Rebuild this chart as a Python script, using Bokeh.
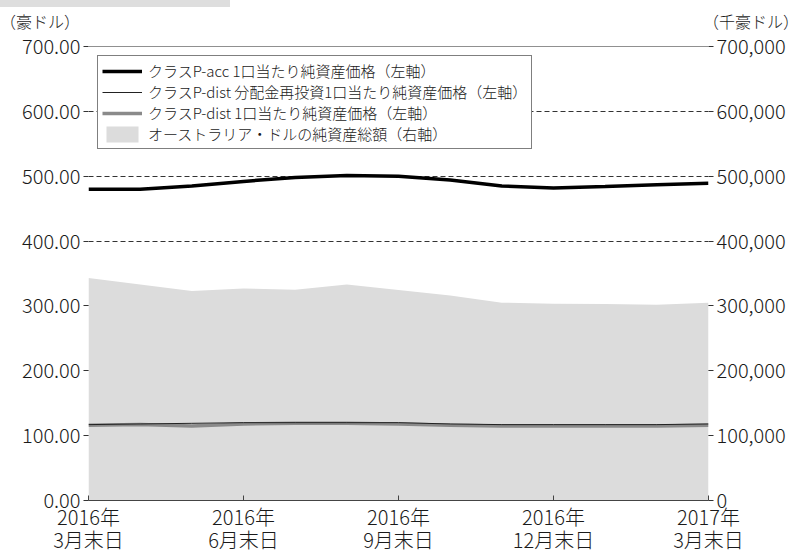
from bokeh.plotting import figure
from bokeh.layouts import column
from bokeh.models import (Range1d, LinearAxis, FixedTicker, NumeralTickFormatter,
                          Legend, LegendItem, Span, Div)
from bokeh.embed import file_html
from bokeh.resources import INLINE

# ---- data (month-end values) ----
months = ["2016-03", "2016-04", "2016-05", "2016-06", "2016-07", "2016-08", "2016-09",
          "2016-10", "2016-11", "2016-12", "2017-01", "2017-02", "2017-03"]
tick_months = ["2016-03", "2016-06", "2016-09", "2016-12", "2017-03"]
tick_labels = ["2016年\n3月末日", "2016年\n6月末日", "2016年\n9月末日",
               "2016年\n12月末日", "2017年\n3月末日"]
nav_acc = [480, 480, 485, 492, 498, 501, 500, 494, 485, 482, 484, 487, 489]
nav_dist_reinv = [117, 118, 119, 120, 120, 120, 120, 118, 117, 117, 117, 117, 118]
nav_dist = [116, 117, 115, 118, 119, 119, 118, 116, 115, 115, 115, 115, 116]
total_assets = [343000, 333000, 323000, 327000, 325000, 333000, 324600,
                316000, 305000, 303500, 303000, 302000, 305000]  # 千豪ドル
left_ticks = [0, 100, 200, 300, 400, 500, 600, 700]
right_ticks = [0, 100000, 200000, 300000, 400000, 500000, 600000, 700000]
left_unit = "（豪ドル）"
right_unit = "（千豪ドル）"

x = list(range(len(months)))
tick_pos = [months.index(m) for m in tick_months]

FONT = "Noto Sans CJK JP Light"
TXT = "#1a1a1a"

head = Div(width=800, height=30, styles={"margin": "0", "padding": "0"}, text=(
    '<div style="position:relative;width:800px;height:30px;'
    'font-family:\'Noto Sans CJK JP\';font-weight:300;font-size:16px;color:#1a1a1a;">'
    '<div style="position:absolute;left:0;top:0;width:230px;height:7px;background:#dedede;"></div>'
    f'<div style="position:absolute;left:0;top:12px;width:74px;text-align:right;line-height:18px;white-space:nowrap;">{left_unit}</div>'
    f'<div style="position:absolute;left:703px;top:12px;line-height:18px;white-space:nowrap;">{right_unit}</div>'
    '</div>'))

p = figure(frame_width=620, frame_height=454, output_backend="svg", toolbar_location=None,
           x_range=Range1d(0, len(months) - 1), y_range=Range1d(0, 700),
           min_border_left=88, min_border_right=92, min_border_top=16,
           min_border_bottom=50)
p.outline_line_color = None
p.background_fill_color = "white"
p.border_fill_color = "white"

p.extra_y_ranges = {"right": Range1d(0, 700000)}

# area (right axis)
area = p.varea(x=x, y1=[0] * len(x), y2=total_assets, y_range_name="right",
               fill_color="#dcdcdc")
# lines (left axis)
l_dist = p.line(x, nav_dist, line_color="#8a8a8a", line_width=3.5)
l_reinv = p.line(x, nav_dist_reinv, line_color="#222222", line_width=1)
l_acc = p.line(x, nav_acc, line_color="black", line_width=3.5)

# top solid line
p.add_layout(Span(location=700, dimension="width", line_color="#222222", line_width=1))

# grid
p.xgrid.visible = False
p.ygrid.ticker = FixedTicker(ticks=[100, 200, 300, 400, 500, 600])
p.ygrid.grid_line_color = "#333333"
p.ygrid.grid_line_dash = "5 3"
p.ygrid.grid_line_width = 1

# x axis
xa = p.xaxis[0]
xa.ticker = FixedTicker(ticks=tick_pos)
xa.major_label_overrides = {tp: lab for tp, lab in zip(tick_pos, tick_labels)}
xa.major_tick_in = 5
xa.major_tick_out = 0
xa.minor_tick_line_color = None
xa.axis_line_color = "#444444"
xa.major_tick_line_color = "#444444"
xa.major_label_text_font = FONT
xa.major_label_text_font_size = "20px"
xa.major_label_text_color = TXT
xa.major_label_text_line_height = 0.8
xa.major_label_standoff = 1

# left axis
ya = p.yaxis[0]
ya.ticker = FixedTicker(ticks=left_ticks)
ya.formatter = NumeralTickFormatter(format="0.00")
ya.axis_line_color = None
ya.major_tick_in = 0
ya.major_tick_out = 5
ya.minor_tick_line_color = None
ya.major_tick_line_color = "#333333"
ya.major_label_text_font = FONT
ya.major_label_text_font_size = "20px"
ya.major_label_text_color = TXT
ya.major_label_standoff = 3

# right axis
ra = LinearAxis(y_range_name="right", ticker=FixedTicker(ticks=right_ticks),
                formatter=NumeralTickFormatter(format="0,0"))
ra.axis_line_color = None
ra.major_tick_in = 0
ra.major_tick_out = 5
ra.minor_tick_line_color = None
ra.major_tick_line_color = "#333333"
ra.major_label_text_font = FONT
ra.major_label_text_font_size = "20px"
ra.major_label_text_color = TXT
ra.major_label_standoff = 3
p.add_layout(ra, "right")

legend = Legend(items=[
    LegendItem(label="クラスP-acc 1口当たり純資産価格（左軸）", renderers=[l_acc]),
    LegendItem(label="クラスP-dist 分配金再投資1口当たり純資産価格（左軸）", renderers=[l_reinv]),
    LegendItem(label="クラスP-dist 1口当たり純資産価格（左軸）", renderers=[l_dist]),
    LegendItem(label="オーストラリア・ドルの純資産総額（右軸）", renderers=[area]),
], location="top_left")
legend.margin = 9
legend.padding = 4
legend.spacing = 0
legend.glyph_width = 40
legend.glyph_height = 20
legend.label_height = 20
legend.label_standoff = 6
legend.label_text_font = FONT
legend.label_text_font_size = "15px"
legend.label_text_color = TXT
legend.border_line_color = "black"
legend.border_line_width = 1
legend.background_fill_color = "white"
legend.background_fill_alpha = 1
p.add_layout(legend)

layout = column(head, p, spacing=0)
open("out.html", "w").write(file_html(layout, INLINE))
